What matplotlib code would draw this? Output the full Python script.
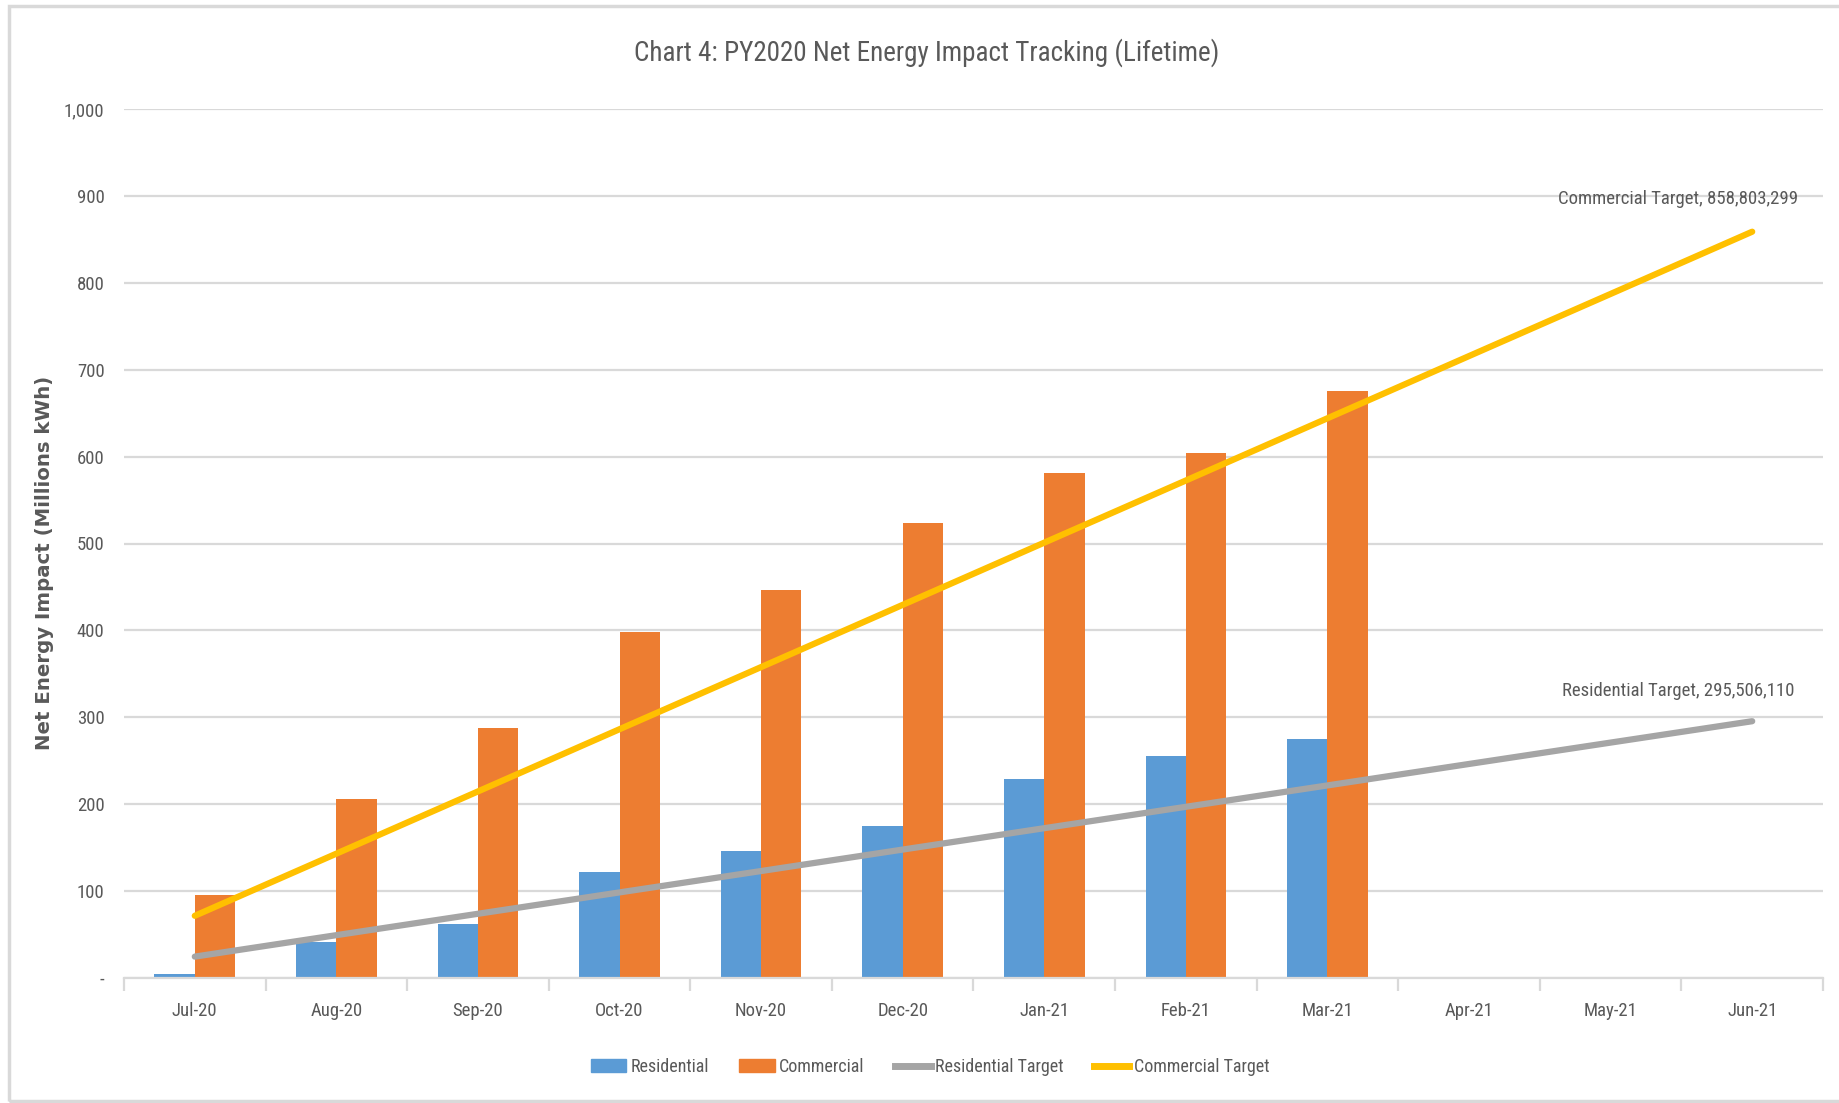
import matplotlib
matplotlib.use("Agg")
import matplotlib.pyplot as plt
import matplotlib.patches as patches
from matplotlib.lines import Line2D
import matplotlib.ticker as ticker
import numpy as np

# Data (millions of kWh, cumulative lifetime)
months = ['Jul-20', 'Aug-20', 'Sep-20', 'Oct-20', 'Nov-20', 'Dec-20',
          'Jan-21', 'Feb-21', 'Mar-21', 'Apr-21', 'May-21', 'Jun-21']
residential = [5, 42, 62, 122, 146, 175, 229, 255, 275]
commercial = [95, 206, 288, 398, 447, 524, 581, 604, 675]
residential_target = [24.6, 49.3, 73.9, 98.5, 123.1, 147.8,
                      172.4, 197.0, 221.6, 246.3, 270.9, 295.5]
commercial_target = [71.6, 143.1, 214.7, 286.3, 357.8, 429.4,
                     501.0, 572.5, 644.1, 715.7, 787.2, 858.8]

BLUE = '#5B9BD5'
ORANGE = '#ED7D31'
GRAY = '#A5A5A5'
YELLOW = '#FFC000'
TEXT = '#595959'
GRID = '#D9D9D9'

# narrow font to get close to the Calibri look
plt.rcParams['font.family'] = ['Liberation Sans Narrow', 'Roboto Condensed', 'DejaVu Sans']
plt.rcParams['font.stretch'] = 'condensed'

fig = plt.figure(figsize=(18.4, 11.03), dpi=100)
ax = fig.add_axes([124 / 1840, 1 - 978 / 1103, (1823 - 124) / 1840, (978 - 109) / 1103])

# Outer chart border
fig.patches.append(patches.Rectangle((9 / 1840, 2 / 1103), 1.0, 1 - 8 / 1103,
                                     transform=fig.transFigure, fill=False,
                                     edgecolor=GRID, linewidth=2.5))

x = np.arange(len(months))
bw = 0.285
ax.bar(x[:len(residential)] - bw / 2, residential, width=bw, color=BLUE, zorder=2)
ax.bar(x[:len(commercial)] + bw / 2, commercial, width=bw, color=ORANGE, zorder=2)
ax.plot(x, residential_target, color=GRAY, linewidth=4.5, solid_capstyle='round', zorder=3)
ax.plot(x, commercial_target, color=YELLOW, linewidth=4.5, solid_capstyle='round', zorder=3)

# Labels at the last point of each target line
ax.annotate('Residential Target, 295,506,110', (x[-1], residential_target[-1]),
            xytext=(-74, 30), textcoords='offset pixels', ha='center', va='center',
            fontsize=13.5, color=TEXT)
ax.annotate('Commercial Target, 858,803,299', (x[-1], commercial_target[-1]),
            xytext=(-74, 33), textcoords='offset pixels', ha='center', va='center',
            fontsize=13.5, color=TEXT)

ax.set_xlim(-0.5, len(months) - 0.5)
ax.set_ylim(0, 1000)
ax.yaxis.set_major_locator(ticker.MultipleLocator(100))
ax.yaxis.set_major_formatter(ticker.FuncFormatter(lambda v, p: '-' if v == 0 else f'{v:,.0f}'))
ax.grid(axis='y', color=GRID, linewidth=1.6, zorder=0)
ax.set_axisbelow(True)

ax.set_xticks(x)
ax.set_xticklabels(months)
ax.set_xticks(np.arange(-0.5, len(months)), minor=True)
ax.tick_params(axis='x', which='major', length=0, pad=17, labelsize=13.5, labelcolor=TEXT)
ax.tick_params(axis='x', which='minor', length=9, width=1.6, color=GRID)
ax.tick_params(axis='y', length=0, pad=14, labelsize=13.5, labelcolor=TEXT)

for side in ['top', 'right', 'left']:
    ax.spines[side].set_visible(False)
ax.spines['bottom'].set_color(GRID)
ax.spines['bottom'].set_linewidth(1.6)

ax.set_ylabel('Net Energy Impact (Millions kWh)', family='DejaVu Sans', fontstretch='normal',
              fontweight='bold', fontsize=14.2, color=TEXT)
ax.yaxis.set_label_coords(-0.041, 0.478)

fig.text(927 / 1840, 1 - 53 / 1103, 'Chart 4: PY2020 Net Energy Impact Tracking (Lifetime)',
         ha='center', va='center', fontsize=19.5, color=TEXT)

handles = [patches.Patch(color=BLUE), patches.Patch(color=ORANGE),
           Line2D([0], [0], color=GRAY, linewidth=5),
           Line2D([0], [0], color=YELLOW, linewidth=5)]
fig.legend(handles, ['Residential', 'Commercial', 'Residential Target', 'Commercial Target'],
           loc='center', bbox_to_anchor=(930 / 1840, 1 - 1067 / 1103), ncol=4,
           frameon=False, fontsize=13, labelcolor=TEXT, handlelength=1.95,
           handletextpad=0.25, columnspacing=1.7)

fig.savefig('out.png', dpi=100)
